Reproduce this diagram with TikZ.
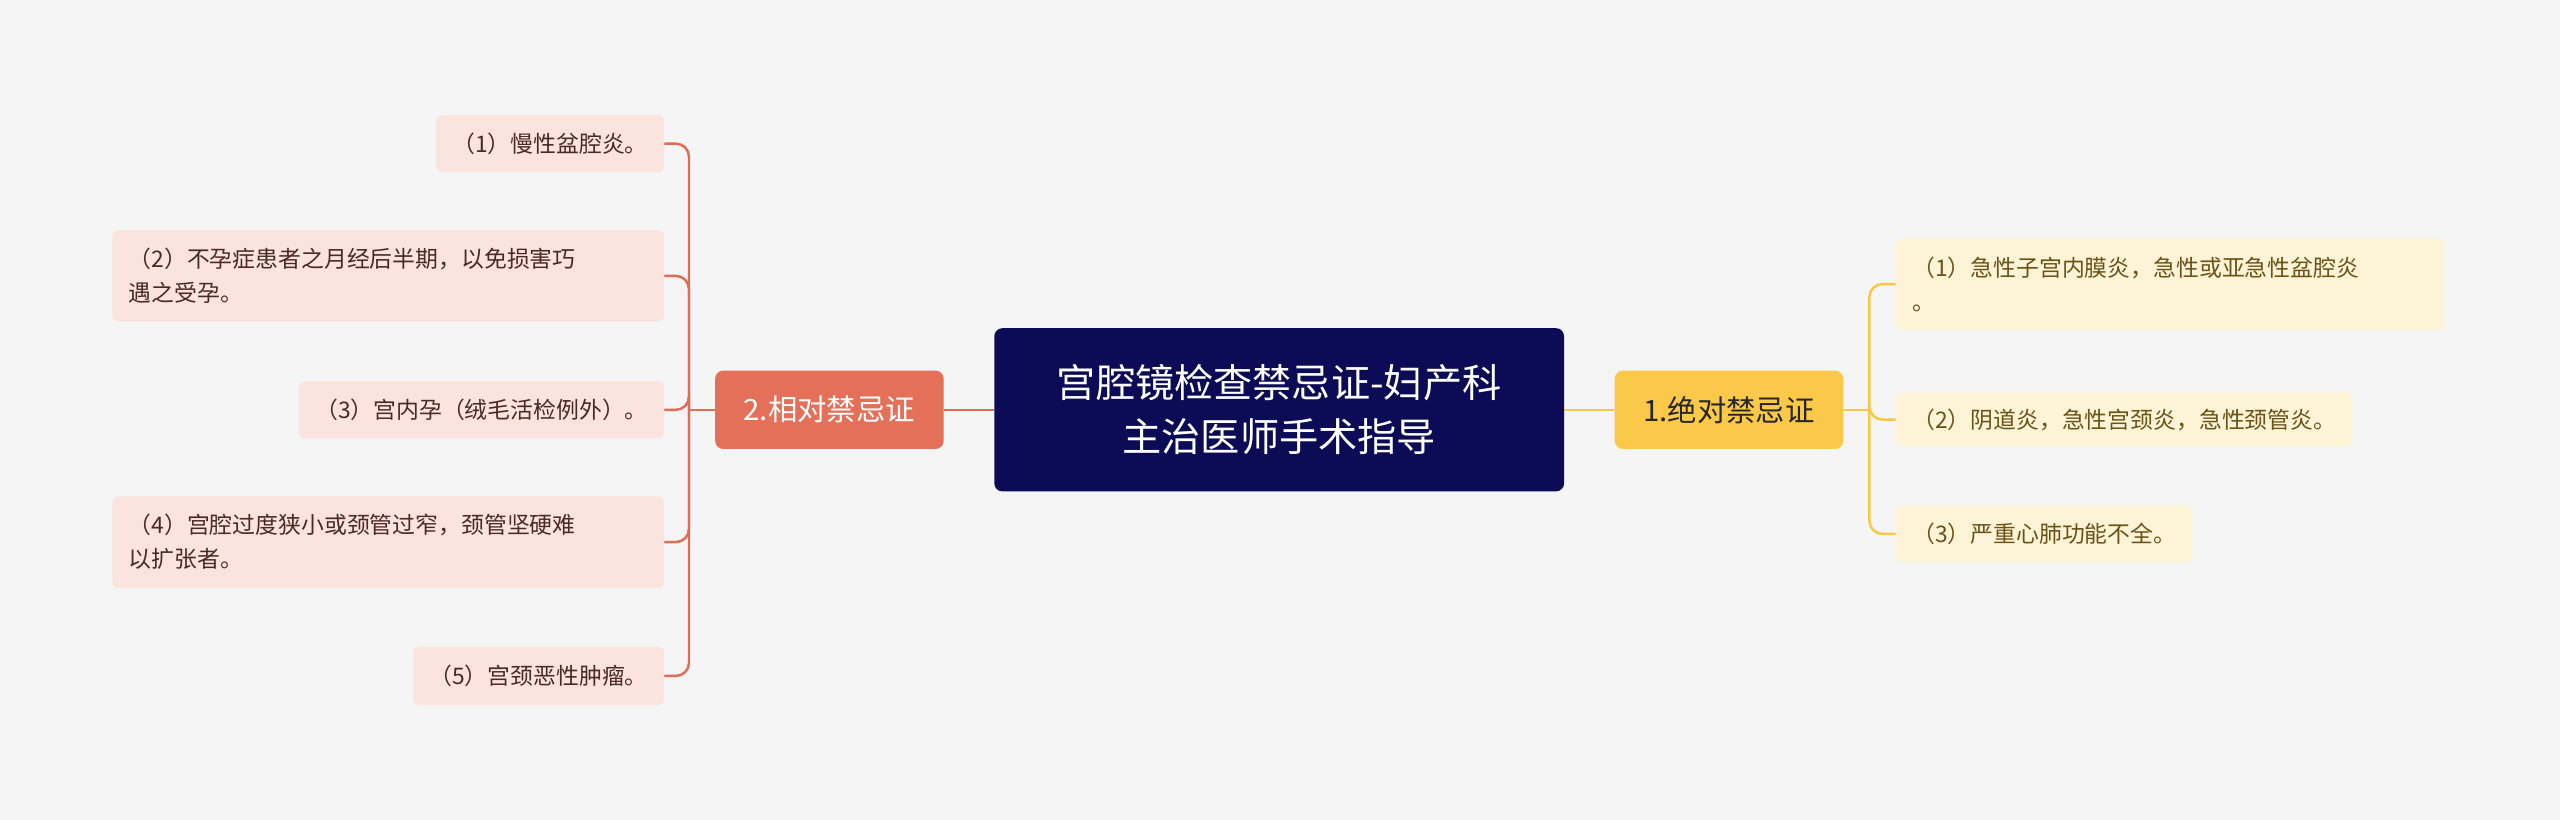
\documentclass[tikz,border=0pt]{standalone}
\usepackage{fontspec}
\newfontfamily\cjk{Noto Sans CJK SC}
\definecolor{bg}{HTML}{F5F5F5}
\definecolor{navy}{HTML}{0B0C55}
\definecolor{yel}{HTML}{FBC94A}
\definecolor{red}{HTML}{E4705A}
\definecolor{yleaf}{HTML}{FDF3D6}
\definecolor{rleaf}{HTML}{FBE3DE}
\definecolor{ytext}{HTML}{6B5215}
\definecolor{rtext}{HTML}{4A2A22}
\definecolor{yline}{HTML}{F6C845}
\definecolor{rline}{HTML}{E06C55}
\tikzset{
 leafR/.style={fill=rleaf,rounded corners=4pt,anchor=east,align=left,inner xsep=10pt,font=\cjk\fontsize{14}{21}\selectfont,text=rtext,minimum height=35pt},
 leafY/.style={fill=yleaf,rounded corners=4pt,anchor=west,align=left,inner xsep=10pt,font=\cjk\fontsize{14}{21}\selectfont,text=ytext,minimum height=35pt},
 mid/.style={rounded corners=5pt,minimum width=140pt,minimum height=48pt,font=\cjk\fontsize{18}{22}\selectfont},
}
\begin{document}
\begin{tikzpicture}[x=1pt,y=-1pt]
\fill[bg] (0,0) rectangle (1568,502);
\node[fill=navy,rounded corners=5pt,minimum width=349pt,minimum height=100pt,text=white,align=center,font=\cjk\fontsize{24}{33}\selectfont] (c) at (783.5,251) {宫腔镜检查禁忌证-妇产科\\主治医师手术指导};
\node[mid,fill=yel,text=black!85] (r) at (1059,251) {1.绝对禁忌证};
\node[mid,fill=red,text=white] (l) at (508,251) {2.相对禁忌证};
\draw[yline,line width=1.5pt] (c.east) -- (r.west);
\draw[rline,line width=1.5pt] (c.west) -- (l.east);
\node[leafY,minimum height=56pt,text width=316pt] (y1) at (1161,174) {（1）急性子宫内膜炎，急性或亚急性盆腔炎\\。};
\node[leafY,minimum height=33pt] (y2) at (1161,257) {（2）阴道炎，急性宫颈炎，急性颈管炎。};
\node[leafY] (y3) at (1161,327) {（3）严重心肺功能不全。};
\node[leafR] (x1) at (407,88) {（1）慢性盆腔炎。};
\node[leafR,minimum height=56pt,text width=318pt] (x2) at (407,169) {（2）不孕症患者之月经后半期，以免损害巧\\遇之受孕。};
\node[leafR] (x3) at (407,251) {（3）宫内孕（绒毛活检例外）。};
\node[leafR,minimum height=56pt,text width=318pt] (x4) at (407,332) {（4）宫腔过度狭小或颈管过窄，颈管坚硬难\\以扩张者。};
\node[leafR,minimum height=36pt] (x5) at (407,414) {（5）宫颈恶性肿瘤。};
\coordinate (rj) at (1145,251);
\coordinate (lj) at (422,251);
\draw[yline,line width=1.5pt] (r.east) -- (rj);
\foreach \n in {y1,y2,y3} \draw[yline,line width=1.5pt,rounded corners=8pt] (rj) |- (\n.west);
\draw[rline,line width=1.5pt] (l.west) -- (lj);
\foreach \n in {x1,x2,x3,x4,x5} \draw[rline,line width=1.5pt,rounded corners=8pt] (lj) |- (\n.east);
\end{tikzpicture}
\end{document}
